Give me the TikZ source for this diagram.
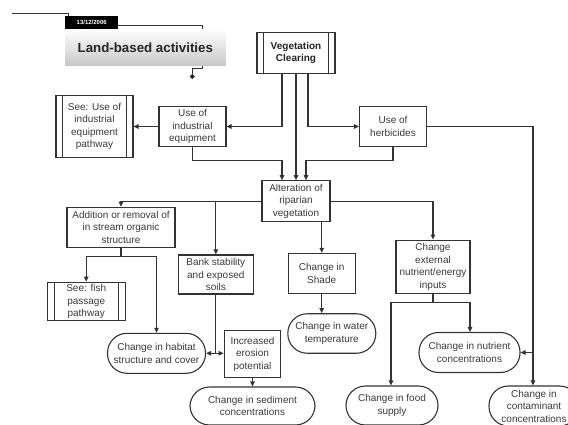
\documentclass[tikz,border=0pt]{standalone}
\usepackage{fontspec}
\setmainfont{Liberation Sans}
\usetikzlibrary{arrows.meta,calc}
\definecolor{ln}{HTML}{333333}
\definecolor{tx}{HTML}{3A3A3A}
\tikzset{
  box/.style={draw=ln,line width=1.1pt,fill=white,align=center,inner sep=0pt,text=tx,
     font=\fontsize{10}{12.5}\selectfont},
  term/.style={box,rounded corners=19.5pt},
  arr/.style={draw=ln,line width=1.1pt,-{Triangle[length=5pt,width=4.5pt]}},
  ln/.style={draw=ln,line width=1.1pt},
}
\newcommand{\ppside}[2]{%
  \draw[ln] ([xshift=#2]#1.north west) -- ([xshift=#2]#1.south west);
  \draw[ln] ([xshift=-#2]#1.north east) -- ([xshift=-#2]#1.south east);}
\begin{document}
\begin{tikzpicture}[x=1pt,y=-1pt]
\useasboundingbox (0,0) rectangle (568,425);
% header
\shade[top color=white,bottom color=black!22] (65,29) rectangle (225.5,66);
\node[inner sep=0pt,font=\fontsize{13.3}{15}\selectfont\bfseries,text=black!85] (title) at (145.3,47.5) {Land-based activities};
\node[fill=black,minimum width=53pt,minimum height=12.5pt,inner sep=0pt,text=white,
  font=\fontsize{6}{7}\selectfont\bfseries,anchor=north west] (date) at (65,16) {13/12/2006};
\coordinate (tl) at (12,13.3);
\draw[ln,line width=0.9pt] (tl) -| ([xshift=3pt]date.north west);
\draw[ln,line width=0.9pt] ([yshift=-3pt]date.east) -| (202.3,29);
\coordinate (dot) at (192.3,76.5);
\draw[ln,line width=0.9pt] (202.3,66) -- (202.3,68.5) -| (dot);
\fill[ln] (dot) circle (1.8pt);
% nodes
\node[box,minimum width=78pt,minimum height=41pt,font=\fontsize{10}{12.5}\selectfont\bfseries,text=black!85] (veg) at (296,53) {Vegetation\\Clearing};
\ppside{veg}{7pt}
\node[box,minimum width=67pt,minimum height=40pt] (herb) at (393,126.5) {Use of\\herbicides};
\node[box,minimum width=67pt,minimum height=40pt] (indeq) at (192.5,126.5) {Use of\\industrial\\equipment};
\node[box,minimum width=77pt,minimum height=62pt] (seeind) at (94.5,126.5) {See: Use of\\industrial\\equipment\\pathway};
\ppside{seeind}{7pt}
\node[box,minimum width=68pt,minimum height=41pt] (alt) at (296,201.2) {Alteration of\\riparian\\vegetation};
\node[box,minimum width=108pt,minimum height=40pt] (add) at (121,227.3) {Addition or removal of\\in stream organic\\structure};
\node[box,minimum width=75pt,minimum height=39pt] (bank) at (215.8,274.5) {Bank stability\\and exposed\\soils};
\node[box,minimum width=67pt,minimum height=40pt] (shade) at (321.7,273.3) {Change in\\Shade};
\node[box,minimum width=74pt,minimum height=53.3pt] (ext) at (433,266.7) {Change\\external\\nutrient/energy\\inputs};
\node[box,minimum width=78pt,minimum height=38.5pt] (seefish) at (86.2,301.5) {See: fish\\passage\\pathway};
\ppside{seefish}{7.7pt}
\node[term,minimum width=98pt,minimum height=40pt] (hab) at (156.5,353.3) {Change in habitat\\structure and cover};
\node[box,minimum width=56.5pt,minimum height=46.5pt] (ero) at (252.5,354) {Increased\\erosion\\potential};
\node[term,minimum width=88pt,minimum height=39.5pt] (water) at (331.8,333.5) {Change in water\\temperature};
\node[term,minimum width=125pt,minimum height=38pt] (sed) at (252.5,406) {Change in sediment\\concentrations};
\node[term,minimum width=101pt,minimum height=40pt] (nut) at (469.5,352.5) {Change in nutrient\\concentrations};
\node[term,minimum width=92pt,minimum height=39pt] (food) at (392,405.5) {Change in food\\supply};
\node[term,minimum width=90pt,minimum height=40pt] (cont) at (534,406) {Change in\\contaminant\\concentrations};
% connectors
\draw[arr] ([xshift=-14pt]veg.south) |- (indeq.east);
\draw[arr] (veg.south) -- (alt.north);
\draw[arr] ([xshift=12pt]veg.south) |- (herb.west);
\draw[arr] (indeq.west) -- (seeind.east);
\draw[arr] (indeq.south) -- ++(0,13.5) -| ([xshift=-14pt]alt.north);
\draw[arr] (herb.south) -- ++(0,13.5) -| ([xshift=10pt]alt.north);
\draw[arr] (herb.east) -| ([xshift=-1pt]cont.north);
\coordinate (cj) at ([xshift=-1pt]cont.north |- nut.east);
\draw[arr] (cj) -- (nut.east);
\draw[arr] (alt.west) -| (add.north);
\draw[arr] (alt.west -| bank.north) -- (bank.north);
\draw[arr] (alt.east) -| (ext.north);
\draw[arr] (shade.north |- alt.south) -- (shade.north);
\draw[arr] (shade.south) -- (shade.south |- water.north);
\coordinate (aj) at ($(add.south)+(0,8.4)$);
\draw[arr] (add.south) -- (aj) -| (seefish.north);
\draw[arr] (aj) -| (hab.north);
\coordinate (bj) at (bank.south |- hab.east);
\draw[ln] (bank.south) -- (bj);
\draw[arr] (bj) -- (hab.east);
\draw[arr] (bj) -- (ero.west |- bj);
\draw[arr] (ero.south) -- (sed.north);
\coordinate (ej) at ($(ext.south)+(0,8.4)$);
\draw[arr] (ext.south) -- (ej) -| ([xshift=-1pt]food.north);
\draw[arr] (ej) -| ([xshift=0.5pt]nut.north);
\end{tikzpicture}
\end{document}
